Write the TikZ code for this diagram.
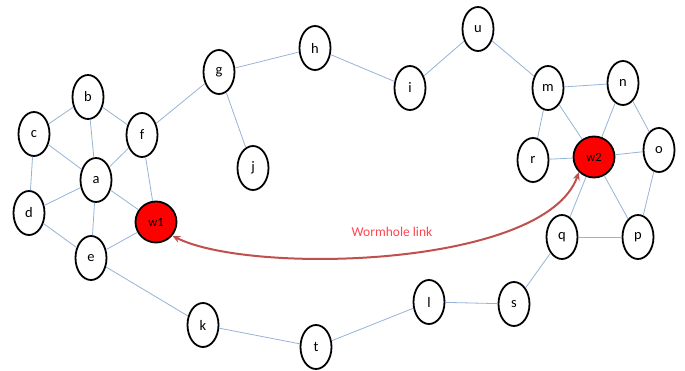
\documentclass[tikz,border=0pt]{standalone}
\usepackage{fontspec}
\setmainfont{Carlito}
\usetikzlibrary{shapes.geometric,arrows.meta}
\definecolor{edgeblue}{RGB}{149,179,215}
\definecolor{wormred}{RGB}{192,80,77}
\definecolor{labred}{RGB}{255,70,80}
\begin{document}
\begin{tikzpicture}[x=1pt,y=-1pt,
  vnode/.style={ellipse,draw=black,line width=1.8pt,fill=white,minimum width=31pt,minimum height=44pt,inner sep=0pt,font=\fontsize{14.5}{16}\selectfont},
  wnode/.style={circle,draw=black,line width=1.8pt,fill=red,minimum size=41pt,inner sep=0pt,font=\fontsize{12.5}{14}\selectfont},
  edge/.style={draw=edgeblue,line width=0.8pt},
  worm/.style={draw=wormred,line width=2pt,{Stealth[length=8pt,width=7pt]}-{Stealth[length=8pt,width=7pt]}}]
\useasboundingbox (0,0) rectangle (685,371);
% nodes
\node[vnode] (b) at (88,97) {b};
\node[vnode] (c) at (34,134) {c};
\node[vnode] (f) at (142,135) {f};
\node[vnode] (a) at (96,180) {a};
\node[vnode] (d) at (29,213) {d};
\node[wnode] (w1) at (156,222) {w1};
\node[vnode] (e) at (91,258) {e};
\node[vnode] (g) at (219,72) {g};
\node[vnode] (h) at (315,48) {h};
\node[vnode] (j) at (253,168) {j};
\node[vnode] (i) at (410,88) {i};
\node[vnode] (u) at (478,29) {u};
\node[vnode] (m) at (548,88) {m};
\node[vnode] (n) at (623,83) {n};
\node[vnode] (r) at (533,160) {r};
\node[wnode] (w2) at (594,157) {w2};
\node[vnode] (o) at (659,150) {o};
\node[vnode] (q) at (562,237) {q};
\node[vnode] (p) at (638,237) {p};
\node[vnode] (s) at (514,304) {s};
\node[vnode] (l) at (429,302) {l};
\node[vnode] (t) at (316,347) {t};
\node[vnode] (k) at (203,325) {k};
% edges
\foreach \u/\v in {b/c,b/a,b/f,c/a,c/d,a/f,a/d,a/e,a/w1,f/w1,d/e,e/w1,f/g,g/h,g/j,h/i,i/u,u/m,m/n,m/r,m/w2,n/w2,n/o,r/w2,o/w2,o/p,w2/q,w2/p,q/p,q/s,s/l,l/t,t/k,k/e}
  \path[edge] (\u) -- (\v);
% wormhole link
\draw[worm] (w2.225) .. controls (545,268) and (250,275) .. (w1.-40);
\node[text=labred,font=\fontsize{13.5}{15}\selectfont] (wl) at (392,232) {Wormhole link};
\end{tikzpicture}
\end{document}
